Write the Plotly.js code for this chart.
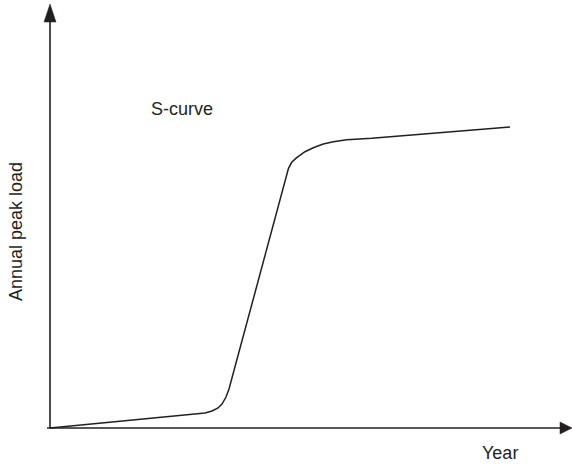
<!DOCTYPE html>
<html>
<head>
<meta charset="utf-8">
<script src="https://cdn.plot.ly/plotly-3.0.1.min.js"></script>
<style>html,body{margin:0;padding:0;background:#fff;}#chart{width:572px;height:466px;}</style>
</head>
<body>
<div id="chart"></div>
<script>
// S-curve of annual peak load (arbitrary units)
var year = [0, 155, 162, 168, 172, 176, 179, 182, 238, 238.5, 241.7, 246.7, 255, 263.3, 273.3, 283.3, 296.7, 310, 321.7, 460];
var load = [0, 15, 17, 20, 24, 31, 39, 50, 256, 259.7, 265.7, 270.3, 276.3, 280.3, 284, 286.3, 288.3, 289.3, 289.7, 301];
var curveLabel = "S-curve";
var xLabel = "Year";
var yLabel = "Annual peak load";

var ink = "#231f20";
var font = {family: "Liberation Sans, Arial, sans-serif", size: 18, color: ink};

var trace = {
  x: year, y: load, type: "scatter", mode: "lines",
  line: {color: ink, width: 1.5}, hoverinfo: "skip", showlegend: false
};

var layout = {
  width: 572, height: 466,
  margin: {l: 40, r: 0, t: 0, b: 26},
  paper_bgcolor: "#fff", plot_bgcolor: "#fff",
  xaxis: {range: [-10, 522], visible: false, fixedrange: true},
  yaxis: {range: [-12, 428], visible: false, fixedrange: true},
  shapes: [
    {type: "line", xref: "x", yref: "y", x0: -3, y0: 0, x1: 512, y1: 0, line: {color: ink, width: 1.6}},
    {type: "line", xref: "x", yref: "y", x0: 0, y0: 0, x1: 0, y1: 408, line: {color: ink, width: 1.6}},
    {type: "path", xref: "x", yref: "y", path: "M 0 424 L -6 406 L 6 406 Z", fillcolor: ink, line: {color: ink, width: 0.5}},
    {type: "path", xref: "x", yref: "y", path: "M 522 0 L 510 6 L 510 -6 Z", fillcolor: ink, line: {color: ink, width: 0.5}}
  ],
  annotations: [
    {x: 132, y: 319, xref: "x", yref: "y", text: curveLabel, showarrow: false, font: font, xanchor: "center", yanchor: "middle"},
    {x: (500 - 40) / 532, y: (440 - 453) / 440, xref: "paper", yref: "paper", text: xLabel, showarrow: false, font: font, xanchor: "center", yanchor: "middle"},
    {x: (16 - 40) / 532, y: (440 - 232) / 440, xref: "paper", yref: "paper", text: yLabel, showarrow: false, font: font, textangle: -90, xanchor: "center", yanchor: "middle"}
  ]
};

Plotly.newPlot("chart", [trace], layout, {displayModeBar: false, staticPlot: true});
</script>
</body>
</html>
